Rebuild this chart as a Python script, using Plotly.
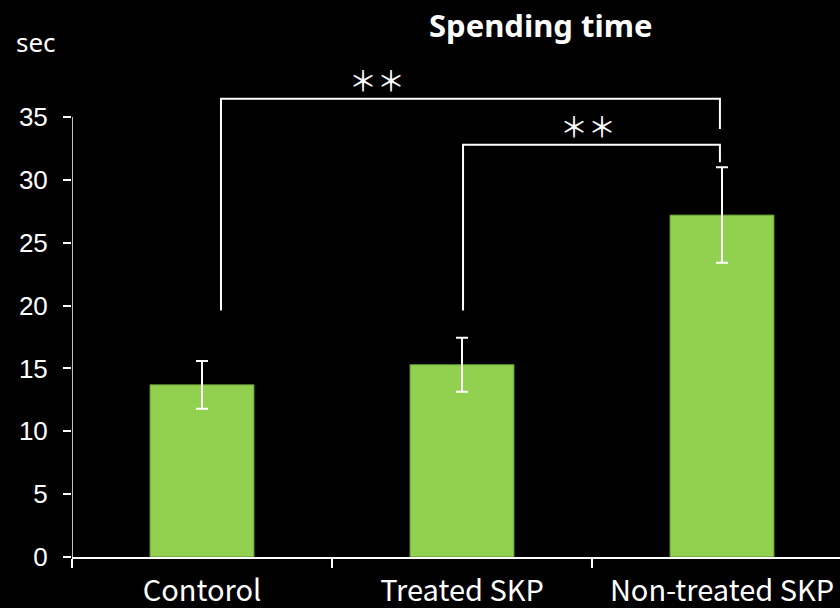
import plotly.graph_objects as go

# Spending time per group (seconds), mean and error
groups = ["Contorol", "Treated SKP", "Non-treated SKP"]
mean_sec = [13.7, 15.3, 27.2]
err_sec = [1.9, 2.15, 3.8]
y_ticks = [0, 5, 10, 15, 20, 25, 30, 35]

# Significance brackets: (left x, right x, left leg bottom, top, right leg bottom, label)
bracket_left = [0.073, 1.004]
bracket_right = [1.992, 1.992]
bracket_left_low = [19.6, 19.6]
bracket_top = [36.45, 32.8]
bracket_right_low = [34.05, 31.4]
bracket_label = ["＊＊", "＊＊"]
label_x = [0.673, 1.485]

W, H = 840, 608
ML, MR, MT, MB = 72, 0, 0, 51
cat_px = 260.0          # pixels per category
unit_px = 440.0 / 35.0  # pixels per second

plot_w = W - ML - MR
plot_h = H - MT - MB
x_range = [-0.5, -0.5 + plot_w / cat_px]
y_range = [0, plot_h / unit_px]

GREEN = "#92D050"
CJK = "Noto Sans CJK JP"

fig = go.Figure()
fig.add_trace(go.Bar(
    x=groups,
    y=mean_sec,
    width=0.4,
    marker=dict(color=GREEN, line=dict(color="#5E8E30", width=1)),
    error_y=dict(type="data", array=err_sec, visible=True,
                 color="white", thickness=2, width=6),
    showlegend=False,
))

shapes = []
# y-axis spine, limited to the tick range
shapes.append(dict(type="line", xref="x", yref="y",
                   x0=x_range[0], x1=x_range[0], y0=0, y1=max(y_ticks),
                   line=dict(color="white", width=1.5)))
for xl, xr, yl, yt, yr in zip(bracket_left, bracket_right, bracket_left_low,
                              bracket_top, bracket_right_low):
    shapes.append(dict(type="path", xref="x", yref="y",
                       path=f"M {xl},{yl} L {xl},{yt} L {xr},{yt} L {xr},{yr}",
                       line=dict(color="white", width=2)))

annotations = []
for lx, yt, lab in zip(label_x, bracket_top, bracket_label):
    annotations.append(dict(x=lx, y=yt + 19 / unit_px, xref="x", yref="y", text=lab,
                            showarrow=False, yanchor="middle",
                            font=dict(family=CJK, size=28, color="white")))
annotations.append(dict(x=(540 - ML) / plot_w, y=(H - MB - 25) / plot_h,
                        xref="paper", yref="paper", text="<b>Spending time</b>",
                        showarrow=False, xanchor="center", yanchor="middle",
                        font=dict(family="Noto Sans", size=31, color="white")))
annotations.append(dict(x=(14 - ML) / plot_w, y=(H - MB - 42) / plot_h,
                        xref="paper", yref="paper", text="sec",
                        showarrow=False, xanchor="left", yanchor="middle",
                        font=dict(family="Noto Sans", size=26, color="white")))

fig.update_layout(
    width=W, height=H,
    margin=dict(l=ML, r=MR, t=MT, b=MB, pad=0),
    paper_bgcolor="black", plot_bgcolor="black",
    shapes=shapes, annotations=annotations,
    xaxis=dict(type="category", range=x_range, automargin=False,
               tickson="boundaries", ticks="outside", ticklen=9, tickwidth=1.5,
               tickcolor="white", showline=True, linecolor="white", linewidth=1.5,
               showgrid=False, zeroline=False, ticklabelstandoff=7,
               tickfont=dict(family=CJK, size=29, color="white")),
    yaxis=dict(range=y_range, tickvals=y_ticks, ticks="outside", ticklen=8,
               automargin=False,
               tickwidth=1.5, tickcolor="white", showline=False, showgrid=False,
               zeroline=False, ticklabelstandoff=10,
               tickfont=dict(family="Liberation Sans", size=26, color="white")),
)

fig.write_html("out.html")
